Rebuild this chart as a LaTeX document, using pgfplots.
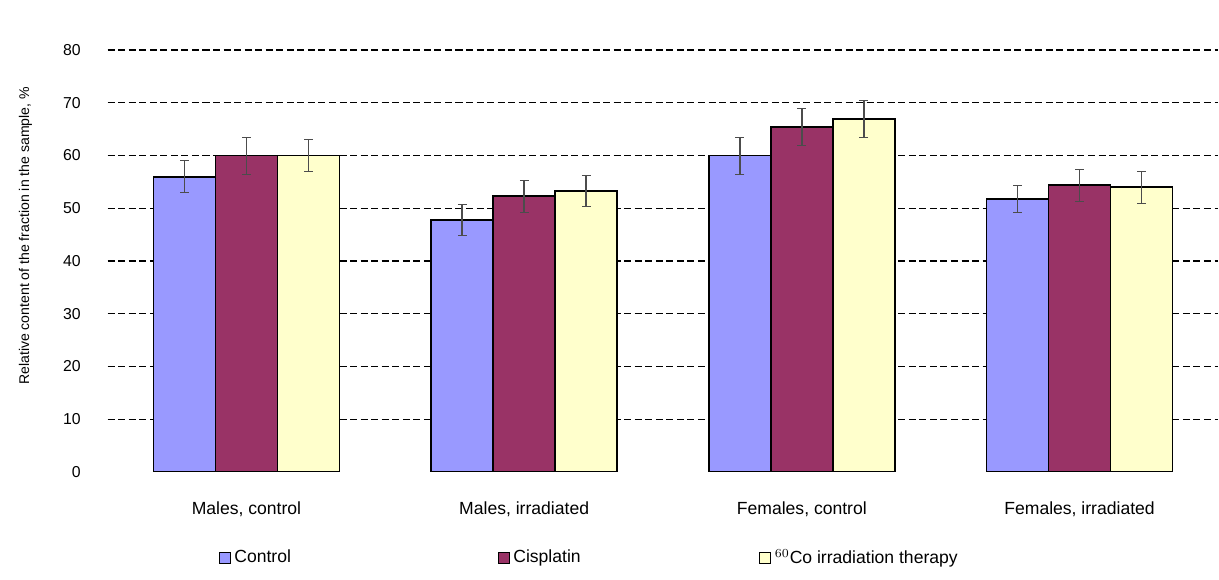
\documentclass[border=0pt]{standalone}
\usepackage{pgfplots}
\pgfplotsset{compat=1.18}
\usepackage{fontspec}
\setmainfont{Liberation Sans}
\definecolor{cblue}{HTML}{9999FF}
\definecolor{cred}{HTML}{993366}
\definecolor{cyel}{HTML}{FFFFCC}
\begin{document}
\begin{tikzpicture}
\begin{axis}[
  scale only axis,
  width=22.22cm, height=9.44cm,
  xmin=-0.5, xmax=3.5,
  ymin=0, ymax=89.5,
  ybar=0pt, bar width=1.24cm,
  xtick=data,
  xticklabels={{Males, control},{Males, irradiated},{Females, control},{Females, irradiated}},
  ytick={10,20,30,40,50,60,70,80},
  extra y ticks={0}, extra y tick style={grid=none},
  ymajorgrids, major grid style={black, dash pattern=on 4pt off 2pt, line width=0.7pt},
  axis x line=bottom, axis y line=left,
  x axis line style={draw=none}, y axis line style={draw=none},
  xtick style={draw=none},
  ytick style={draw=none},
  /pgf/number format/assume math mode=true,
  tick label style={font=\small},
  yticklabel style={xshift=-0.34cm},
  xticklabel style={font=\normalsize, yshift=-0.4cm},
  every axis y label/.style={at={(axis description cs:-0.0972,0.5)}, rotate=90, anchor=north, inner sep=0.38cm, font=\footnotesize},
  ylabel={Relative content of the fraction in the sample, \%},
  legend style={at={(0.095,-0.2288)}, anchor=south west, draw=none, legend columns=3,
    inner ysep=0.2cm, font=\normalsize},
  legend image code/.code={\draw[#1, draw=black, line width=0.6pt] (0cm,-0.11cm) rectangle (0.22cm,0.11cm);},
  error bars/y dir=both, error bars/y explicit,
  error bars/error bar style={black!70, line width=1pt},
  error bars/error mark options={rotate=90, mark size=2.5pt, black!70},
]
\addplot[fill=cblue, draw=black, line width=1pt] coordinates {(0,56) +- (0,3) (1,47.8) +- (0,3) (2,60) +- (0,3.5) (3,51.8) +- (0,2.5)};
\addplot[fill=cred, draw=black, line width=1pt] coordinates {(0,60) +- (0,3.5) (1,52.3) +- (0,3) (2,65.4) +- (0,3.5) (3,54.4) +- (0,3)};
\addplot[fill=cyel, draw=black, line width=1pt] coordinates {(0,60) +- (0,3) (1,53.3) +- (0,3) (2,66.9) +- (0,3.5) (3,54) +- (0,3)};
\legend{\makebox[5.2cm][l]{Control}, \makebox[4.85cm][l]{Cisplatin}, {$^{60}$Co irradiation therapy}}
\end{axis}
\end{tikzpicture}
\end{document}
